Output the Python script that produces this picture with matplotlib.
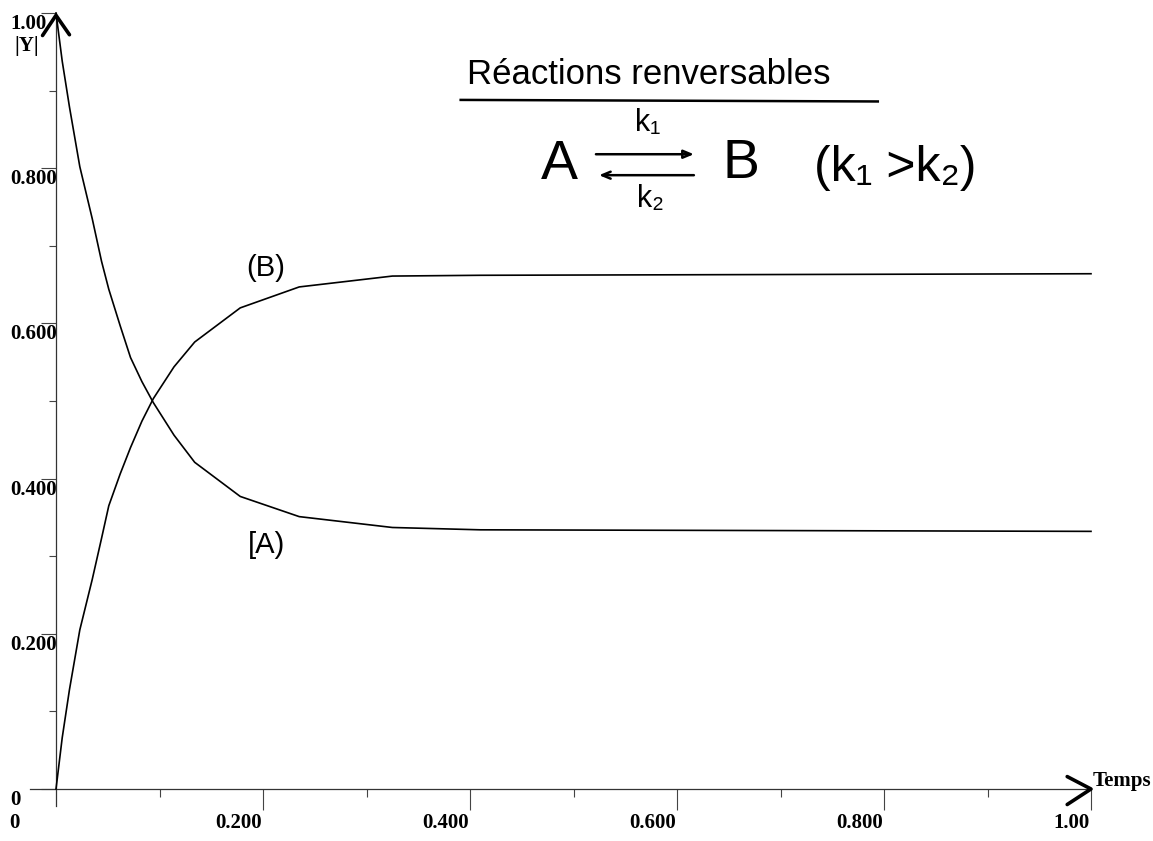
import matplotlib
matplotlib.use("Agg")
import matplotlib.pyplot as plt
import matplotlib.transforms as mtransforms

# ── Data ──────────────────────────────────────────────────────────────────────

TIME   = [0.0, 0.006, 0.013, 0.023, 0.035, 0.044, 0.051, 0.062, 0.072, 0.083, 0.094,
          0.114, 0.134, 0.178, 0.235, 0.325, 0.41, 1.0]
CONC_A = [1.0, 0.938, 0.879, 0.802, 0.735, 0.680, 0.644, 0.597, 0.556, 0.525, 0.498,
          0.456, 0.421, 0.377, 0.351, 0.337, 0.334, 0.332]
CONC_B = [0.0, 0.066, 0.128, 0.205, 0.270, 0.323, 0.365, 0.406, 0.440, 0.474, 0.503,
          0.544, 0.576, 0.620, 0.647, 0.661, 0.662, 0.664]

X_TICKS       = [0.2, 0.4, 0.6, 0.8, 1.0]
X_TICK_LABELS = ["0.200", "0.400", "0.600", "0.800", "1.00"]
X_MINOR       = [0.1, 0.3, 0.5, 0.7, 0.9]
Y_TICKS       = [0.0, 0.2, 0.4, 0.6, 0.8, 1.0]
Y_TICK_LABELS = ["0", "0.200", "0.400", "0.600", "0.800", "1.00"]
Y_MINOR       = [0.1, 0.3, 0.5, 0.7, 0.9]

TICK_FONT = dict(family="Liberation Serif", weight="bold", fontsize=15)
HAND = ["Liberation Sans", "DejaVu Sans"]

# ── Figure ────────────────────────────────────────────────────────────────────

fig = plt.figure(figsize=(11.53, 8.41), dpi=100)
ax = fig.add_axes([56 / 1153, 52 / 841, 1035 / 1153, 776 / 841])
ax.set_xlim(0, 1)
ax.set_ylim(0, 1)
for s in ax.spines.values():
    s.set_visible(False)

# axis lines with hand-drawn arrow heads
ax.plot([-0.025, 1.0], [0, 0], color="#333333", lw=0.9, clip_on=False)
ax.plot([0, 0], [-0.022, 1.0], color="#333333", lw=0.9, clip_on=False)
ax.plot([0.977, 1.0, 0.977], [0.016, 0.0, -0.020], color="black", lw=2.6,
        clip_on=False, solid_capstyle="round")
ax.plot([-0.013, 0.0, 0.013], [0.971, 0.997, 0.972], color="black", lw=2.6,
        clip_on=False, solid_capstyle="round")

# ticks
ax.set_xticks(X_TICKS)
ax.set_xticks(X_MINOR, minor=True)
ax.set_yticks(Y_TICKS)
ax.set_yticks(Y_MINOR, minor=True)
ax.tick_params(axis="x", which="major", direction="out", length=15, width=0.8,
               color="#444444", labelbottom=False)
ax.tick_params(axis="x", which="minor", direction="out", length=6, width=0.8,
               color="#444444")
ax.tick_params(axis="y", which="major", direction="out", length=11, width=0.8,
               color="#444444", labelleft=False)
ax.tick_params(axis="y", which="minor", direction="out", length=5, width=0.8,
               color="#444444")

# tick labels, placed like the original printout
ytrans = mtransforms.offset_copy(ax.get_yaxis_transform(), fig=fig, y=-11, units="dots")
for v, lab in zip(Y_TICKS, Y_TICK_LABELS):
    ax.text(-0.044, v, lab, transform=ytrans, ha="left", va="center", **TICK_FONT)
ax.text(-0.040, 1.0, "|Y|", transform=mtransforms.offset_copy(
    ax.get_yaxis_transform(), fig=fig, y=-33, units="dots"),
    ha="left", va="center", **TICK_FONT)

xtrans = mtransforms.offset_copy(ax.get_xaxis_transform(), fig=fig, x=-1, y=-34, units="dots")
for v, lab in zip(X_TICKS, X_TICK_LABELS):
    ax.text(v, 0, lab, transform=xtrans, ha="right", va="center", **TICK_FONT)
ax.text(-0.044, 0, "0", transform=xtrans, ha="left", va="center", **TICK_FONT)
ax.text(1.0, 0, "Temps", transform=mtransforms.offset_copy(
    ax.get_xaxis_transform(), fig=fig, x=2, y=8, units="dots"),
    ha="left", va="center", clip_on=False, **TICK_FONT)

# curves
ax.plot(TIME, CONC_A, color="black", lw=1.2, clip_on=False)
ax.plot(TIME, CONC_B, color="black", lw=1.2, clip_on=False)

# ── Hand-written annotations ─────────────────────────────────────────────────

ax.text(0.203, 0.671, "(B)", family=HAND, fontsize=21, ha="center", va="center")
ax.text(0.203, 0.314, "[A)", family=HAND, fontsize=21, ha="center", va="center")

ax.text(0.573, 0.921, "Réactions renversables", family=HAND, fontsize=25,
        ha="center", va="center")
ax.plot([0.391, 0.794], [0.888, 0.886], color="black", lw=1.8)

ax.text(0.486, 0.804, "A", family=HAND, fontsize=40, ha="center", va="center")
ax.text(0.662, 0.806, "B", family=HAND, fontsize=40, ha="center", va="center")
ax.annotate("", xy=(0.619, 0.818), xytext=(0.519, 0.818),
            arrowprops=dict(arrowstyle="-|>,head_length=0.6,head_width=0.25",
                            color="black", lw=1.8, fill=False))
ax.annotate("", xy=(0.522, 0.791), xytext=(0.619, 0.791),
            arrowprops=dict(arrowstyle="->,head_length=0.6,head_width=0.25",
                            color="black", lw=1.8))
ax.text(0.572, 0.858, "k\u2081", family=HAND, fontsize=22, ha="center", va="center")
ax.text(0.574, 0.760, "k\u2082", family=HAND, fontsize=22, ha="center", va="center")
ax.text(0.811, 0.800, "(k\u2081 >k\u2082)", family=HAND, fontsize=36,
        ha="center", va="center")

fig.savefig("out.png", dpi=100, facecolor="white")
